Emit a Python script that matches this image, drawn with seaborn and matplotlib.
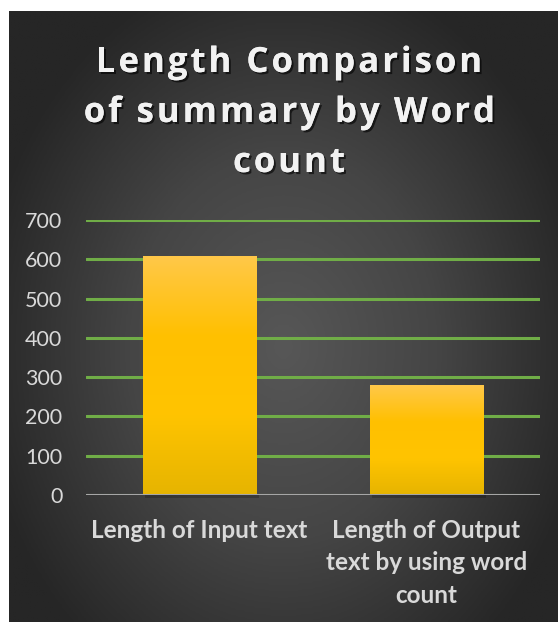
import numpy as np
import pandas as pd
import seaborn as sns
import matplotlib.pyplot as plt
from matplotlib import patheffects
from matplotlib.colors import LinearSegmentedColormap

# data
categories = ["Length of Input text", "Length of Output\ntext by using word\ncount"]
word_counts = [608, 279]
y_ticks = [0, 100, 200, 300, 400, 500, 600, 700]
title_lines = ["Length Comparison", "of summary by Word", "count"]

sns.set_theme(style="dark")
plt.rcParams['font.family'] = ['Lato', 'DejaVu Sans']

W, H = 558, 622
fig = plt.figure(figsize=(W / 100, H / 100), dpi=100)
fig.patch.set_facecolor('white')

# dark panel with a soft radial gradient
bg = fig.add_axes([9 / W, 0, (W - 9) / W, (H - 11) / H])
bg.set_axis_off()
yy, xx = np.mgrid[0:1:300j, 0:1:300j]
r = np.sqrt(((xx - 0.5) / 0.75) ** 2 + ((yy - 0.55) / 0.85) ** 2)
bg_cmap = LinearSegmentedColormap.from_list('bg', ['#575757', '#454545', '#262626'])
bg.imshow(r, cmap=bg_cmap, vmin=0, vmax=0.75, aspect='auto', extent=(0, 1, 0, 1))
bg.set_xlim(0, 1)
bg.set_ylim(0, 1)

# plot area
ax = fig.add_axes([86 / W, 1 - 495 / H, 454 / W, 275 / H])
ax.set_facecolor('none')
df = pd.DataFrame({'category': categories, 'count': word_counts})
sns.barplot(data=df, x='category', y='count', ax=ax, width=0.5,
            color='#ffc000', saturation=1, zorder=3)

# gradient fill for the bars
bar_cmap = LinearSegmentedColormap.from_list('bar', ['#e6b400', '#ffc400', '#ffc000', '#ffc849'])
grad = np.linspace(0, 1, 256).reshape(-1, 1)
for p in ax.patches:
    x0, y0 = p.get_x(), p.get_y()
    w, h = p.get_width(), p.get_height()
    p.set_edgecolor('none')
    im = ax.imshow(grad, cmap=bar_cmap, origin='lower', aspect='auto',
                   extent=(x0, x0 + w, y0, y0 + h), zorder=4)
    im.set_clip_path(p)
    # soft shadow under the bar
    ax.fill_between([x0 + 0.01, x0 + w + 0.01], [-7, -7], [0, 0],
                    color='black', alpha=0.2, lw=0, zorder=2, clip_on=False)

ax.set_xlim(-0.5, 1.5)
ax.set_ylim(0, 700)
ax.set_yticks(y_ticks)
ax.yaxis.grid(True, color='#70ad47', lw=2.2, zorder=1)
ax.xaxis.grid(False)
ax.axhline(0, color='#a6a6a6', lw=2.2, zorder=5)
for s in ax.spines.values():
    s.set_visible(False)

ax.set_xlabel('')
ax.set_ylabel('')
ax.tick_params(axis='y', colors='#d9d9d9', labelsize=15.5, pad=17, length=0)
ax.tick_params(axis='x', colors='#d9d9d9', labelsize=17.5, pad=17, length=0)
for t in ax.get_xticklabels():
    t.set_fontweight('bold')
    t.set_linespacing(1.5)
    t.set_multialignment('center')

# title with widened letter spacing, one glyph at a time
title_kw = dict(color='#f2f2f2', fontsize=25, fontweight='bold',
                family=['Open Sans', 'DejaVu Sans'], va='baseline', ha='left',
                path_effects=[patheffects.withSimplePatchShadow(offset=(1.5, -1.5),
                                                                shadow_rgbFace='black', alpha=0.6),
                              patheffects.Normal()])
renderer = fig.canvas.get_renderer()


def text_width(s):
    if not s:
        return 0.0
    probe = fig.text(0, 0, s + '|', **title_kw)
    bar = fig.text(0, 0, '|', **title_kw)
    wpx = probe.get_window_extent(renderer).width - bar.get_window_extent(renderer).width
    probe.remove()
    bar.remove()
    return wpx


spacing = 3.0
center_x = 289
for i, line in enumerate(title_lines):
    baseline = 72 + i * 50
    total = text_width(line) + spacing * (len(line) - 1)
    start = center_x - total / 2
    for j, ch in enumerate(line):
        if ch == ' ':
            continue
        x = start + text_width(line[:j]) + spacing * j
        fig.text(x / W, 1 - baseline / H, ch, **title_kw)

fig.savefig('out.png', dpi=100)
